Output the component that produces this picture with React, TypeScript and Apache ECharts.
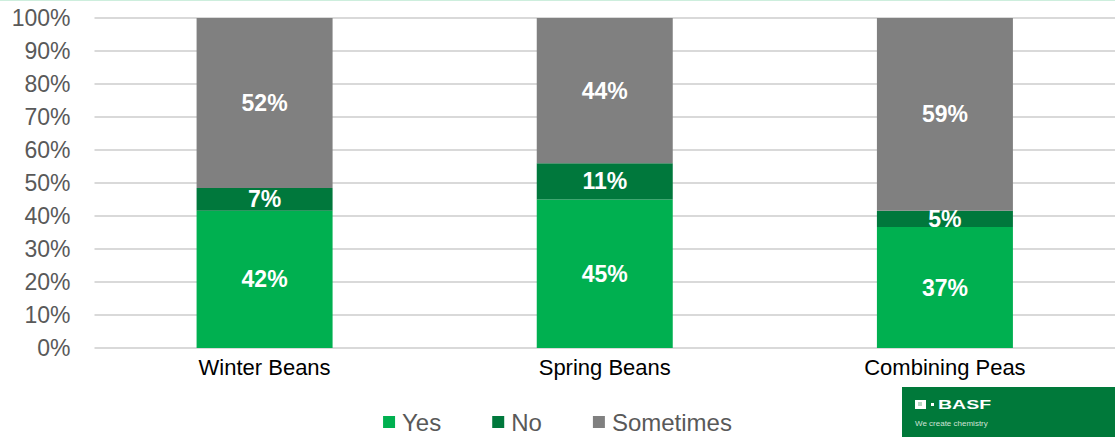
import React, { useEffect, useRef } from "react";
import * as echarts from "echarts";

const categories = ["Winter Beans", "Spring Beans", "Combining Peas"];
const seriesNames = ["Yes", "No", "Sometimes"];
const yesValues = [42, 45, 37];
const noValues = [7, 11, 5];
const sometimesValues = [52, 44, 59];
const colors = ["#00b050", "#00783c", "#808080"];

export default function App() {
  const ref = useRef<HTMLDivElement>(null);
  useEffect(() => {
    document.body.style.margin = "0";
    if (!ref.current) return;
    const chart = echarts.init(ref.current, null, { renderer: "svg" });
    const raw = [yesValues, noValues, sometimesValues];
    const totals = categories.map((_, i) => raw.reduce((s, arr) => s + arr[i], 0));
    const series = raw.map((arr, si) => ({
      name: seriesNames[si],
      type: "bar",
      stack: "total",
      barWidth: 136,
      itemStyle: { color: colors[si] },
      data: arr.map((v, i) => ({ value: (v / totals[i]) * 100, raw: v })),
      label: {
        show: true,
        position: "inside",
        color: "#ffffff",
        fontWeight: "bold",
        fontSize: 23,
        fontFamily: "Liberation Sans, Arial, sans-serif",
        formatter: (p: any) => `${p.data.raw}%`,
      },
    }));
    chart.setOption({
      animation: false,
      textStyle: { fontFamily: "Liberation Sans, Arial, sans-serif" },
      grid: { left: 94.5, top: 18, width: 1023, height: 330, containLabel: false },
      xAxis: {
        type: "category",
        data: categories,
        axisLine: { show: false },
        axisTick: { show: false },
        axisLabel: { color: "#000000", fontSize: 22, margin: 8 },
      },
      yAxis: {
        type: "value",
        min: 0,
        max: 100,
        interval: 10,
        axisLine: { show: false },
        axisTick: { show: false },
        axisLabel: { color: "#595959", fontSize: 23, margin: 24, formatter: "{value}%" },
        splitLine: { lineStyle: { color: "#d9d9d9", width: 2 } },
      },
      legend: {
        data: seriesNames,
        left: "center",
        top: 405,
        itemWidth: 12,
        itemHeight: 12,
        itemGap: 51,
        icon: "rect",
        textStyle: { color: "#595959", fontSize: 24, padding: [0, 0, 0, 2] },
      },
      graphic: [
        { type: "rect", left: 0, top: 0, shape: { width: 1115, height: 1 }, style: { fill: "#cdeedd" } },
        { type: "rect", shape: { x: 902, y: 387, width: 213, height: 50 }, style: { fill: "#00793a" } },
        { type: "rect", shape: { x: 915, y: 400, width: 11, height: 9 }, style: { fill: "#ffffff" } },
        { type: "rect", shape: { x: 918, y: 402, width: 4, height: 4 }, style: { fill: "#b8d8c4" } },
        { type: "rect", shape: { x: 931, y: 403, width: 3, height: 3 }, style: { fill: "#ffffff" } },
        {
          type: "text",
          x: 938,
          y: 398,
          scaleX: 1.5,
          style: { text: "BASF", fill: "#ffffff", fontSize: 13, fontWeight: "bold", fontFamily: "Liberation Sans, Arial, sans-serif" },
        },
        {
          type: "text",
          x: 915,
          y: 419,
          style: { text: "We create chemistry", fill: "#cfe3d6", fontSize: 8, fontFamily: "Liberation Sans, Arial, sans-serif" },
        },
      ],
      series,
    });
    return () => chart.dispose();
  }, []);
  return <div ref={ref} style={{ width: 1115, height: 437 }} />;
}
